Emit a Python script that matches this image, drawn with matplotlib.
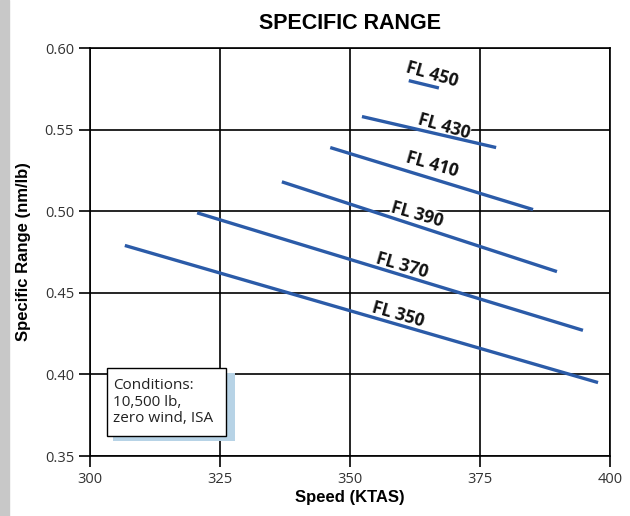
import matplotlib.pyplot as plt
import matplotlib.patches as mpatches
from matplotlib import font_manager

# flight levels and the end points of each specific range line
levels = ['FL 350', 'FL 370', 'FL 390', 'FL 410', 'FL 430', 'FL 450']
speed_start = [306.7, 320.6, 336.9, 346.2, 352.3, 361.3]
speed_end = [397.7, 394.8, 389.8, 385.2, 378.1, 367.1]
range_start = [0.479, 0.499, 0.518, 0.539, 0.558, 0.580]
range_end = [0.395, 0.427, 0.463, 0.501, 0.539, 0.5755]

# where the labels sit
label_x = [359.3, 360.0, 362.9, 365.8, 368.0, 365.8]
label_y = [0.4365, 0.467, 0.4977, 0.5283, 0.5516, 0.5835]

x_ticks = [300, 325, 350, 375, 400]
y_ticks = [0.35, 0.40, 0.45, 0.50, 0.55, 0.60]

names = {f.name for f in font_manager.fontManager.ttflist}
narrow = 'Liberation Sans Narrow' if 'Liberation Sans Narrow' in names else 'Liberation Sans'
plt.rcParams['font.family'] = ['Open Sans', 'DejaVu Sans']

line_color = '#2b5ba8'

fig = plt.figure(figsize=(6.3, 5.16), dpi=100)
fig.patches.append(mpatches.Rectangle((0, 0), 9 / 630, 1, transform=fig.transFigure,
                                      color='#c8c8c8', zorder=0))
ax = fig.add_axes([90 / 630, 1 - 456 / 516, 520 / 630, 408 / 516])

ax.set_xlim(300, 400)
ax.set_ylim(0.35, 0.60)
ax.set_xticks(x_ticks)
ax.set_yticks(y_ticks)
ax.set_yticklabels([f'{v:.2f}' for v in y_ticks])
ax.tick_params(labelsize=10.5, length=8, width=1.2, color='black',
               labelcolor='#333333')
ax.grid(True, color='black', linewidth=1.2)
ax.set_axisbelow(True)
for side in ['left', 'bottom', 'right', 'top']:
    ax.spines[side].set_linewidth(1.2)

for i in range(len(levels)):
    ax.plot([speed_start[i], speed_end[i]], [range_start[i], range_end[i]],
            color=line_color, linewidth=2.4, solid_capstyle='butt', zorder=3)
    ax.text(label_x[i], label_y[i], levels[i], rotation=-16, ha='center', va='center',
            fontsize=12.5, fontweight='bold', color='#111111',
            bbox=dict(facecolor='white', edgecolor='none', pad=0.5), zorder=2)

ax.set_title('SPECIFIC RANGE', fontsize=15.5, fontweight='bold',
             family=[narrow, 'DejaVu Sans'], pad=14)
ax.set_xlabel('Speed (KTAS)', fontsize=12, fontweight='bold',
              family=[narrow, 'DejaVu Sans'], labelpad=2)
ax.set_ylabel('Specific Range (nm/lb)', fontsize=12, fontweight='bold',
              family=[narrow, 'DejaVu Sans'], labelpad=10)

# conditions box with a pale blue shadow
shadow = mpatches.Rectangle((113 / 630, 1 - 441 / 516), 122 / 630, 68 / 516,
                            transform=fig.transFigure, facecolor='#b7d3e6',
                            edgecolor='none', zorder=4)
box = mpatches.Rectangle((107 / 630, 1 - 436 / 516), 119 / 630, 68 / 516,
                         transform=fig.transFigure, facecolor='white',
                         edgecolor='black', linewidth=1.0, zorder=5)
fig.patches.extend([shadow, box])
fig.text(113 / 630, 1 - 402 / 516, 'Conditions:\n10,500 lb,\nzero wind, ISA',
         ha='left', va='center', fontsize=11, linespacing=1.12,
         color='#222222', zorder=6)

fig.savefig('out.png', dpi=100)
